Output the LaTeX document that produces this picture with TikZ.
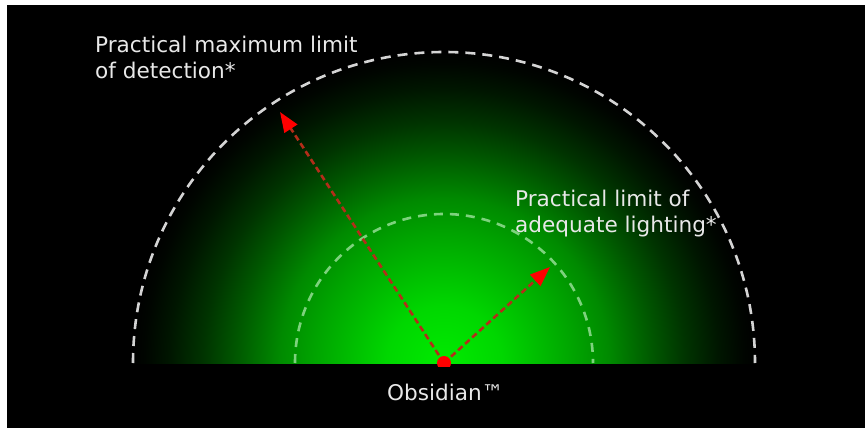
\documentclass[tikz,border=0pt]{standalone}
\usepackage{fontspec}
\setmainfont{DejaVu Sans}
\usetikzlibrary{arrows.meta}
\definecolor{g0}{RGB}{0,235,0}
\definecolor{g1}{RGB}{0,215,0}
\definecolor{g2}{RGB}{0,165,0}
\definecolor{g3}{RGB}{0,138,0}
\definecolor{g4}{RGB}{0,86,0}
\definecolor{g5}{RGB}{0,52,0}
\definecolor{g6}{RGB}{0,22,0}
\definecolor{g7}{RGB}{0,5,0}
\definecolor{raydark}{RGB}{180,45,25}
\definecolor{rayhead}{RGB}{255,0,0}
\definecolor{txt}{RGB}{232,232,232}
\definecolor{outerdash}{RGB}{212,212,212}
\definecolor{innerdash}{RGB}{125,210,125}
\pgfdeclareradialshading{glow}{\pgfpoint{0bp}{0bp}}{color(0bp)=(g0); color(4.6bp)=(g1); color(10.3bp)=(g2); color(13.2bp)=(g3); color(16.8bp)=(g4); color(19.3bp)=(g5); color(22bp)=(g6); color(24bp)=(g7); color(25bp)=(black); color(50bp)=(black)}
\tikzset{
  lbl/.style={text=txt, font=\fontsize{21.6}{26}\selectfont, inner sep=0pt, align=left},
  outerarc/.style={draw=outerdash, line width=2.6pt, dash pattern=on 10pt off 7pt},
  innerarc/.style={draw=innerdash, line width=2.6pt, dash pattern=on 9pt off 7pt},
  ray/.style={draw=raydark, line width=2.6pt, dash pattern=on 6pt off 3.5pt,
    -{Triangle[length=20pt,width=15pt,color=rayhead]}}
}
\begin{document}
\begin{tikzpicture}[x=1pt,y=-1pt]
\useasboundingbox (0,0) rectangle (865,428);
\fill[white] (0,0) rectangle (865,428);
\fill[black] (7,5) rectangle (865,428);
\coordinate (o) at (444,363);
\begin{scope}
  \clip (7,5) rectangle (865,363);
  \shade[shading=glow] (o) circle[radius=312];
\end{scope}
\draw[outerarc] (o) ++(-311,0) arc[start angle=180, end angle=360, radius=311];
\draw[innerarc] (o) ++(-149,0) arc[start angle=180, end angle=360, radius=149];
\coordinate (t1) at (280,112);
\coordinate (t2) at (550,267);
\draw[ray] (o) -- (t1);
\draw[ray] (o) -- (t2);
\begin{scope}
  \clip (7,5) rectangle (865,366);
  \fill[rayhead] (o) circle[radius=7];
\end{scope}
\node[lbl, anchor=base west] (maxlbl) at (95,79) {Practical maximum limit\\of detection*};
\node[lbl, anchor=base west] (adqlbl) at (515,232) {Practical limit of\\adequate lighting*};
\node[lbl, anchor=base west] (obs) at (387,400) {Obsidian™};
\end{tikzpicture}
\end{document}
